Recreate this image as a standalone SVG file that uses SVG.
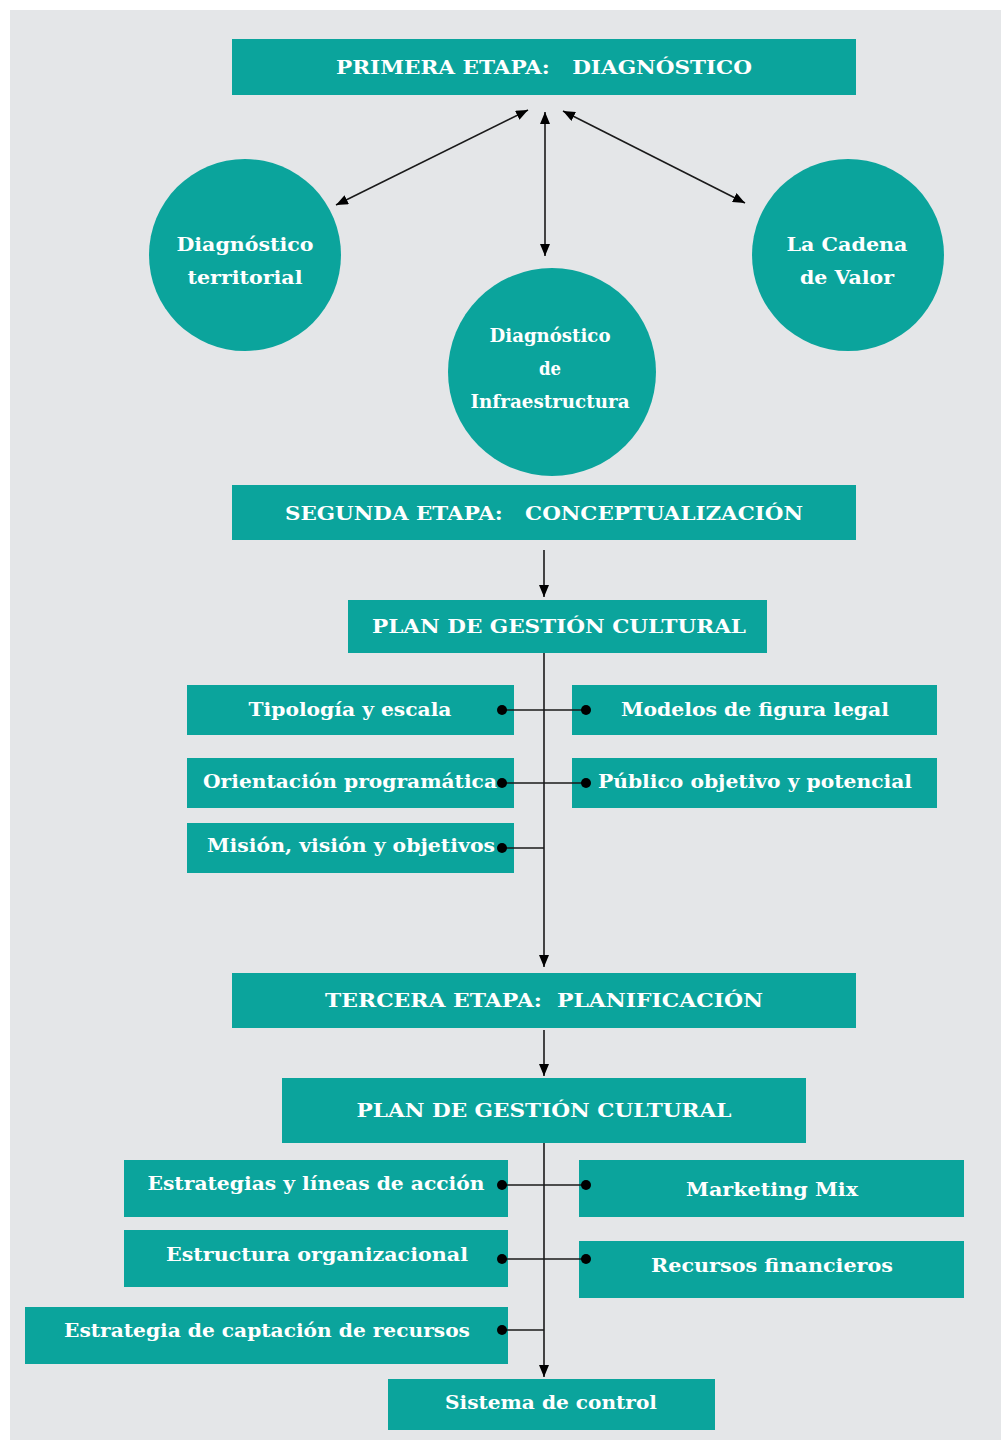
<svg xmlns="http://www.w3.org/2000/svg" width="1001" height="1443" viewBox="0 0 1001 1443">
<defs>
<style>
.box{fill:#0ba49c}
.t{font-family:"DejaVu Serif","Liberation Serif",serif;font-weight:bold;font-size:18px;fill:#ffffff;text-anchor:middle;white-space:pre}
.ln{stroke:#1a1a1a;stroke-width:1.6;fill:none}
.dot{fill:#000}
</style>
<marker id="ah" viewBox="0 0 12 10" refX="12" refY="5" markerWidth="12" markerHeight="10" markerUnits="userSpaceOnUse" orient="auto-start-reverse">
<path d="M0,0 L12,5 L0,10 Z" fill="#000"/>
</marker>
</defs>
<rect x="0" y="0" width="1001" height="1443" fill="#ffffff"/>
<rect x="10" y="10" width="991" height="1430" fill="#e4e6e8"/>

<g id="primera">
<rect class="box" x="232" y="39" width="624" height="56"/>
<text class="t" x="544" y="74" textLength="416" lengthAdjust="spacingAndGlyphs">PRIMERA ETAPA:   DIAGNÓSTICO</text>
</g>
<g id="diag-territorial">
<circle class="box" cx="245" cy="255" r="96"/>
<text class="t" x="245" y="251" textLength="137" lengthAdjust="spacingAndGlyphs">Diagnóstico</text>
<text class="t" x="245" y="284" textLength="115" lengthAdjust="spacingAndGlyphs">territorial</text>
</g>
<g id="diag-infra">
<circle class="box" cx="552" cy="372" r="104"/>
<text class="t" x="550" y="342" font-size="16" textLength="121" lengthAdjust="spacingAndGlyphs">Diagnóstico</text>
<text class="t" x="550" y="375" font-size="16" textLength="22" lengthAdjust="spacingAndGlyphs">de</text>
<text class="t" x="550" y="408" font-size="16" textLength="159" lengthAdjust="spacingAndGlyphs">Infraestructura</text>
</g>
<g id="cadena-valor">
<circle class="box" cx="848" cy="255" r="96"/>
<text class="t" x="847" y="251" textLength="121" lengthAdjust="spacingAndGlyphs">La Cadena</text>
<text class="t" x="847" y="284" textLength="94" lengthAdjust="spacingAndGlyphs">de Valor</text>
</g>
<g id="segunda">
<rect class="box" x="232" y="485" width="624" height="55"/>
<text class="t" x="544" y="520" textLength="518" lengthAdjust="spacingAndGlyphs">SEGUNDA ETAPA:   CONCEPTUALIZACIÓN</text>
</g>
<g id="plan1">
<rect class="box" x="348" y="600" width="419" height="53"/>
<text class="t" x="559" y="633" textLength="374" lengthAdjust="spacingAndGlyphs">PLAN DE GESTIÓN CULTURAL</text>
</g>
<g id="tipologia">
<rect class="box" x="187" y="685" width="327" height="50"/>
<text class="t" x="350" y="716" textLength="203" lengthAdjust="spacingAndGlyphs">Tipología y escala</text>
</g>
<g id="modelos">
<rect class="box" x="572" y="685" width="365" height="50"/>
<text class="t" x="755" y="716" textLength="268" lengthAdjust="spacingAndGlyphs">Modelos de figura legal</text>
</g>
<g id="orientacion">
<rect class="box" x="187" y="758" width="327" height="50"/>
<text class="t" x="350" y="788" textLength="294" lengthAdjust="spacingAndGlyphs">Orientación programática</text>
</g>
<g id="publico">
<rect class="box" x="572" y="758" width="365" height="50"/>
<text class="t" x="755" y="788" textLength="314" lengthAdjust="spacingAndGlyphs">Público objetivo y potencial</text>
</g>
<g id="mision">
<rect class="box" x="187" y="823" width="327" height="50"/>
<text class="t" x="351" y="852" textLength="288" lengthAdjust="spacingAndGlyphs">Misión, visión y objetivos</text>
</g>
<g id="tercera">
<rect class="box" x="232" y="973" width="624" height="55"/>
<text class="t" x="544" y="1007" textLength="438" lengthAdjust="spacingAndGlyphs">TERCERA ETAPA:  PLANIFICACIÓN</text>
</g>
<g id="plan2">
<rect class="box" x="282" y="1078" width="524" height="65"/>
<text class="t" x="544" y="1117" textLength="375" lengthAdjust="spacingAndGlyphs">PLAN DE GESTIÓN CULTURAL</text>
</g>
<g id="estrategias">
<rect class="box" x="124" y="1160" width="384" height="57"/>
<text class="t" x="316" y="1190" textLength="337" lengthAdjust="spacingAndGlyphs">Estrategias y líneas de acción</text>
</g>
<g id="marketing">
<rect class="box" x="579" y="1160" width="385" height="57"/>
<text class="t" x="772" y="1196" textLength="172" lengthAdjust="spacingAndGlyphs">Marketing Mix</text>
</g>
<g id="estructura">
<rect class="box" x="124" y="1230" width="384" height="57"/>
<text class="t" x="317" y="1261" textLength="302" lengthAdjust="spacingAndGlyphs">Estructura organizacional</text>
</g>
<g id="recursos">
<rect class="box" x="579" y="1241" width="385" height="57"/>
<text class="t" x="772" y="1272" textLength="242" lengthAdjust="spacingAndGlyphs">Recursos financieros</text>
</g>
<g id="captacion">
<rect class="box" x="25" y="1307" width="483" height="57"/>
<text class="t" x="267" y="1337" textLength="406" lengthAdjust="spacingAndGlyphs">Estrategia de captación de recursos</text>
</g>
<g id="sistema">
<rect class="box" x="388" y="1379" width="327" height="51"/>
<text class="t" x="551" y="1409" textLength="212" lengthAdjust="spacingAndGlyphs">Sistema de control</text>
</g>

<g id="connectors">
<line class="ln" x1="528" y1="110" x2="336" y2="205" marker-start="url(#ah)" marker-end="url(#ah)"/>
<line class="ln" x1="545" y1="112" x2="545" y2="256" marker-start="url(#ah)" marker-end="url(#ah)"/>
<line class="ln" x1="563" y1="111" x2="745" y2="203" marker-start="url(#ah)" marker-end="url(#ah)"/>
<line class="ln" x1="544" y1="550" x2="544" y2="597" marker-end="url(#ah)"/>
<line class="ln" x1="544" y1="653" x2="544" y2="967" marker-end="url(#ah)"/>
<line class="ln" x1="502" y1="710" x2="586" y2="710"/>
<line class="ln" x1="502" y1="783" x2="586" y2="783"/>
<line class="ln" x1="502" y1="848" x2="544" y2="848"/>
<line class="ln" x1="544" y1="1030" x2="544" y2="1076" marker-end="url(#ah)"/>
<line class="ln" x1="544" y1="1143" x2="544" y2="1377" marker-end="url(#ah)"/>
<line class="ln" x1="502" y1="1185" x2="586" y2="1185"/>
<line class="ln" x1="502" y1="1259" x2="586" y2="1259"/>
<line class="ln" x1="502" y1="1330" x2="544" y2="1330"/>
<circle class="dot" cx="502" cy="710" r="5"/>
<circle class="dot" cx="586" cy="710" r="5"/>
<circle class="dot" cx="502" cy="783" r="5"/>
<circle class="dot" cx="586" cy="783" r="5"/>
<circle class="dot" cx="502" cy="848" r="5"/>
<circle class="dot" cx="502" cy="1185" r="5"/>
<circle class="dot" cx="586" cy="1185" r="5"/>
<circle class="dot" cx="502" cy="1259" r="5"/>
<circle class="dot" cx="586" cy="1259" r="5"/>
<circle class="dot" cx="502" cy="1330" r="5"/>
</g>
</svg>
